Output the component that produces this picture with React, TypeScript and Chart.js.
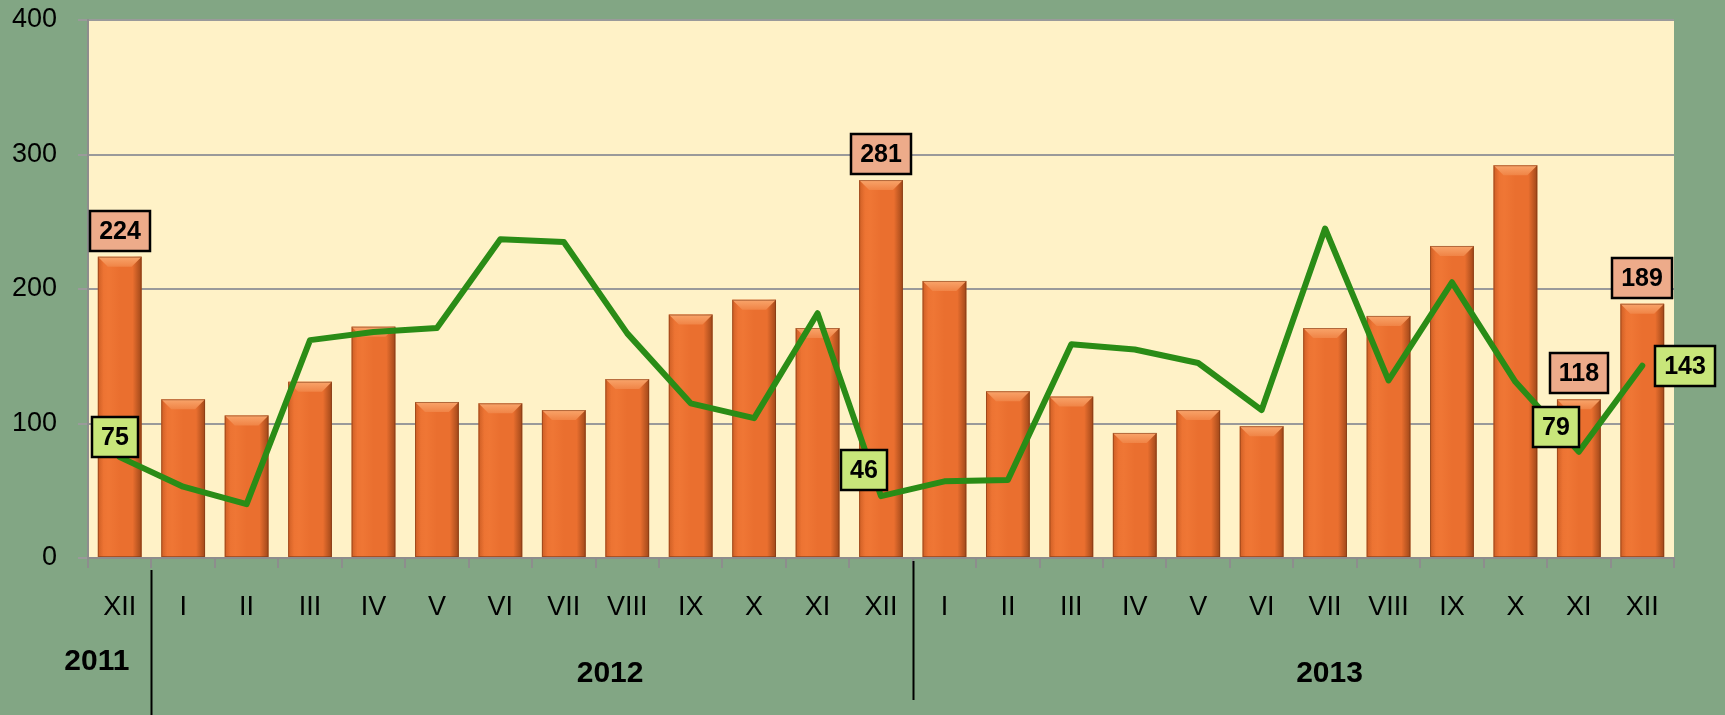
import React, { useEffect, useRef } from 'react';
import { Chart, registerables } from 'chart.js';

Chart.register(...registerables);

// ---- data ----
const monthLabels = ['XII', 'I', 'II', 'III', 'IV', 'V', 'VI', 'VII', 'VIII', 'IX', 'X', 'XI', 'XII',
  'I', 'II', 'III', 'IV', 'V', 'VI', 'VII', 'VIII', 'IX', 'X', 'XI', 'XII'];
const barValues = [224, 118, 106, 131, 172, 116, 115, 110, 133, 181, 192, 171, 281,
  206, 124, 120, 93, 110, 98, 171, 180, 232, 292, 118, 189];
const lineValues = [75, 53, 40, 162, 168, 171, 237, 235, 167, 115, 104, 182, 46,
  57, 58, 159, 155, 145, 110, 245, 132, 205, 131, 79, 143];
const barLabelIndices = [0, 12, 23, 24];
const lineLabelIndices = [0, 12, 23, 24];
const yearLabels = ['2011', '2012', '2013'];
const yTickValues = [0, 100, 200, 300, 400];

// ---- styles ----
const FONT = '"Liberation Sans", Arial, sans-serif';
const BG_GREEN = '#82a684';
const PLOT_BG = '#fff2c7';
const BAR_COLOR = '#ea6f2f';
const LINE_COLOR = '#2a8c16';
const BAR_LABEL_BG = '#edab8a';
const LINE_LABEL_BG = '#c8e67a';
// label box centre offsets relative to point (style only)
const lineLabelOffsets = [[-5, -20], [-17, -26], [-23, -25], [43, 0]];
// year label positions in category units and vertical offsets below plot
const yearLabelPos = [-0.36, 7.73, 19.07];
const yearLabelDy = [104, 116, 116];
// separators: boundary positions (category units), y-range offsets below plot
const separators = [
  { at: 0.5, y0: 12, y1: 157 },
  { at: 12.5, y0: 3, y1: 142 },
];

function drawBox(ctx: CanvasRenderingContext2D, cx: number, cy: number, text: string, bg: string) {
  ctx.save();
  ctx.font = `bold 25px ${FONT}`;
  const tw = ctx.measureText(text).width;
  const w = Math.round(tw + 18);
  const h = 40;
  const x = Math.round(cx - w / 2);
  const y = Math.round(cy - h / 2);
  ctx.fillStyle = bg;
  ctx.fillRect(x, y, w, h);
  ctx.lineWidth = 2.5;
  ctx.strokeStyle = '#000';
  ctx.strokeRect(x, y, w, h);
  ctx.fillStyle = '#000';
  ctx.textAlign = 'center';
  ctx.textBaseline = 'middle';
  ctx.fillText(text, x + w / 2, y + h / 2 + 1);
  ctx.restore();
}

const decorPlugin = {
  id: 'decor',
  beforeDraw(chart: any) {
    const { ctx, chartArea, width, height } = chart;
    ctx.save();
    ctx.fillStyle = BG_GREEN;
    ctx.fillRect(0, 0, width, height);
    ctx.fillStyle = PLOT_BG;
    ctx.fillRect(chartArea.left, chartArea.top, chartArea.right - chartArea.left, chartArea.bottom - chartArea.top);
    ctx.restore();
  },
  afterDatasetDraw(chart: any, args: any) {
    if (args.index !== 0) return;
    const { ctx } = chart;
    const meta = chart.getDatasetMeta(0);
    ctx.save();
    meta.data.forEach((bar: any) => {
      const { x, y, base, width } = bar.getProps(['x', 'y', 'base', 'width'], true);
      const l = x - width / 2;
      const r = x + width / 2;
      const t = y;
      const b = base;
      let g = ctx.createLinearGradient(l, 0, l + 6, 0);
      g.addColorStop(0, 'rgba(150,60,15,0.35)');
      g.addColorStop(1, 'rgba(150,60,15,0)');
      ctx.fillStyle = g;
      ctx.fillRect(l, t, 6, b - t);
      g = ctx.createLinearGradient(l, 0, r, 0);
      g.addColorStop(0, 'rgba(255,150,80,0)');
      g.addColorStop(0.25, 'rgba(255,140,70,0.25)');
      g.addColorStop(0.5, 'rgba(255,140,70,0)');
      g.addColorStop(1, 'rgba(255,140,70,0)');
      ctx.fillStyle = g;
      ctx.fillRect(l, t, r - l, b - t);
      g = ctx.createLinearGradient(r - 9, 0, r, 0);
      g.addColorStop(0, 'rgba(110,45,10,0)');
      g.addColorStop(1, 'rgba(110,45,10,0.6)');
      ctx.fillStyle = g;
      ctx.fillRect(r - 9, t, 9, b - t);
      const bv = Math.min(10, (b - t) / 2);
      ctx.beginPath();
      ctx.moveTo(l, t);
      ctx.lineTo(r, t);
      ctx.lineTo(r - bv, t + bv);
      ctx.lineTo(l + bv, t + bv);
      ctx.closePath();
      g = ctx.createLinearGradient(0, t, 0, t + bv);
      g.addColorStop(0, '#f9a56b');
      g.addColorStop(1, '#f08446');
      ctx.fillStyle = g;
      ctx.fill();
      ctx.lineWidth = 1;
      ctx.strokeStyle = 'rgba(120,55,20,0.55)';
      ctx.strokeRect(l + 0.5, t + 0.5, r - l - 1, b - t - 1);
    });
    ctx.restore();
  },
  afterDraw(chart: any) {
    const { ctx, chartArea } = chart;
    const xs = chart.scales.x;
    const barMeta = chart.getDatasetMeta(0);
    const lineMeta = chart.getDatasetMeta(1);
    barLabelIndices.forEach((i) => {
      const el = barMeta.data[i];
      drawBox(ctx, el.x, el.y - 26, String(barValues[i]), BAR_LABEL_BG);
    });
    lineLabelIndices.forEach((i, k) => {
      const el = lineMeta.data[i];
      const [dx, dy] = lineLabelOffsets[k];
      drawBox(ctx, el.x + dx, el.y + dy, String(lineValues[i]), LINE_LABEL_BG);
    });
    ctx.save();
    ctx.font = `bold 30px ${FONT}`;
    ctx.fillStyle = '#000';
    ctx.textAlign = 'center';
    ctx.textBaseline = 'middle';
    yearLabels.forEach((t, i) => {
      ctx.fillText(t, xs.getPixelForValue(yearLabelPos[i]), chartArea.bottom + yearLabelDy[i]);
    });
    ctx.strokeStyle = '#000';
    ctx.lineWidth = 2;
    separators.forEach((s) => {
      const px = Math.round(xs.getPixelForValue(s.at)) + 0.5;
      ctx.beginPath();
      ctx.moveTo(px, chartArea.bottom + s.y0);
      ctx.lineTo(px, chartArea.bottom + s.y1);
      ctx.stroke();
    });
    ctx.restore();
  },
};

export default function App() {
  const ref = useRef<HTMLCanvasElement | null>(null);
  useEffect(() => {
    if (!ref.current) return;
    const chart = new Chart(ref.current, {
      type: 'bar',
      data: {
        labels: monthLabels,
        datasets: [
          {
            type: 'bar',
            data: barValues,
            backgroundColor: BAR_COLOR,
            borderWidth: 0,
            barPercentage: 0.69,
            categoryPercentage: 1,
            order: 2,
          },
          {
            type: 'line',
            data: lineValues,
            borderColor: LINE_COLOR,
            borderWidth: 6,
            pointRadius: 0,
            tension: 0,
            borderJoinStyle: 'round',
            borderCapStyle: 'round',
            order: 1,
          } as any,
        ],
      },
      options: {
        responsive: false,
        animation: false,
        layout: { padding: { top: 20, right: 51, left: 0, bottom: 0 } },
        plugins: { legend: { display: false }, tooltip: { enabled: false } },
        scales: {
          x: {
            offset: true,
            grid: { display: true, drawOnChartArea: false, drawTicks: true, tickLength: 10, color: '#8d8d8d', lineWidth: 2, offset: true },
            border: { display: true, color: '#8d8d8d', width: 2 },
            ticks: { color: '#000', font: { family: FONT, size: 27 }, padding: 23, maxRotation: 0, autoSkip: false },
            afterFit: (s: any) => { s.height = 157; s.paddingLeft = 0; s.paddingRight = 0; },
          },
          y: {
            min: 0,
            max: 400,
            afterBuildTicks: (s: any) => { s.ticks = yTickValues.map((v) => ({ value: v })); },
            ticks: { color: '#000', font: { family: FONT, size: 27 }, padding: 21 },
            grid: { color: '#9a9a9a', lineWidth: 2, tickLength: 10 },
            border: { display: true, color: '#8d8d8d', width: 2 },
            afterFit: (s: any) => { s.width = 88; s.paddingTop = 0; s.paddingBottom = 0; },
          },
        },
      },
      plugins: [decorPlugin],
    });
    return () => chart.destroy();
  }, []);
  return (
    <div style={{ position: 'fixed', left: 0, top: 0, width: 1725, height: 715 }}>
      <canvas ref={ref} width={1725} height={715} style={{ display: 'block' }} />
    </div>
  );
}
